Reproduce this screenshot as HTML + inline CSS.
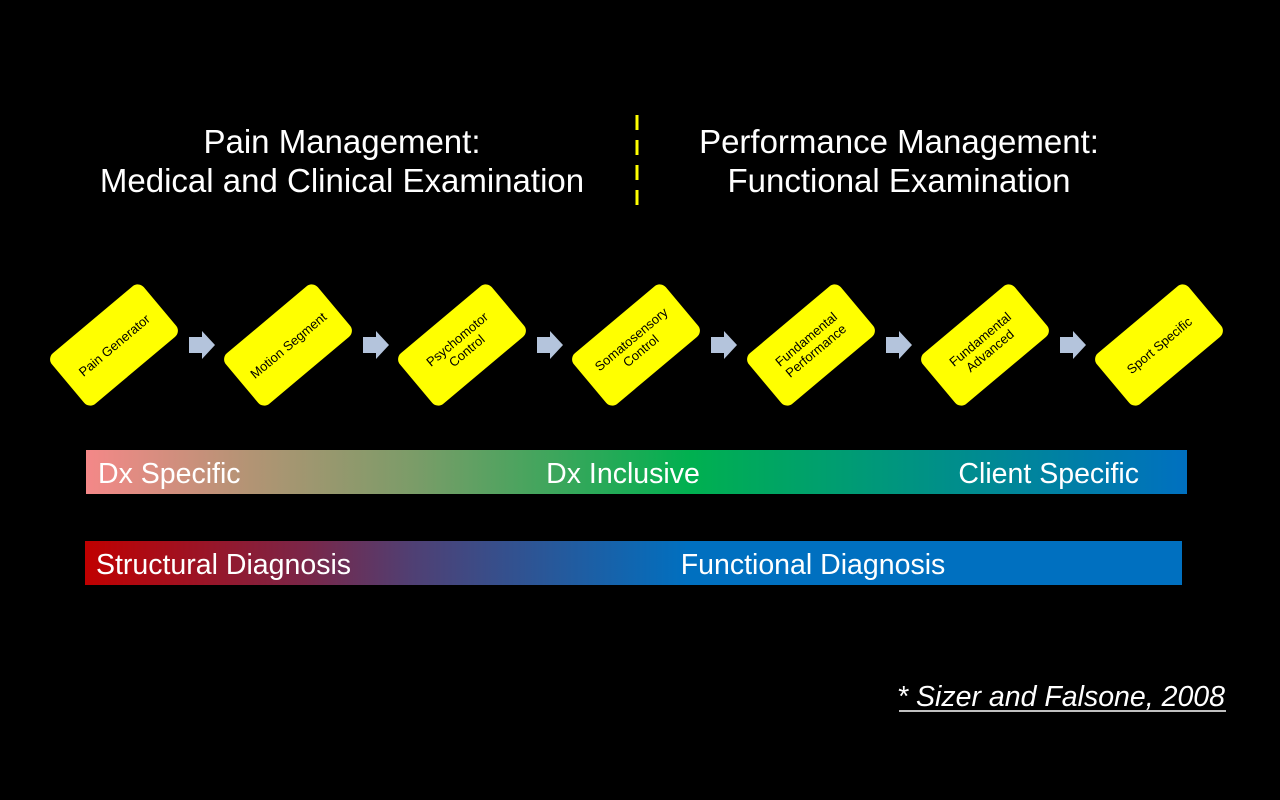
<!DOCTYPE html>
<html><head><meta charset="utf-8"><style>
body{margin:0;background:#000;width:1280px;height:800px;overflow:hidden}
svg{display:block}
text{font-family:"Liberation Sans",sans-serif}
</style></head><body>
<svg width="1280" height="800" viewBox="0 0 1280 800">
<defs>
<linearGradient id="g1" x1="0" x2="1" y1="0" y2="0">
<stop offset="0" stop-color="#f48888"/>
<stop offset="0.15" stop-color="#b29474"/>
<stop offset="0.3" stop-color="#7a9c68"/>
<stop offset="0.55" stop-color="#00b050"/>
<stop offset="1" stop-color="#0070c0"/>
</linearGradient>
<linearGradient id="g2" x1="0" x2="1" y1="0" y2="0">
<stop offset="0" stop-color="#c00000"/>
<stop offset="0.2" stop-color="#7a2648"/>
<stop offset="0.3" stop-color="#4f4074"/>
<stop offset="0.55" stop-color="#0070c0"/>
<stop offset="1" stop-color="#0070c0"/>
</linearGradient>
</defs>
<g fill="#fff" font-size="33" text-anchor="middle">
<text x="342" y="153">Pain Management:</text>
<text x="342" y="192">Medical and Clinical Examination</text>
<text x="899" y="153">Performance Management:</text>
<text x="899" y="192">Functional Examination</text>
</g>
<line x1="637" y1="115" x2="637" y2="205" stroke="#ffff00" stroke-width="3" stroke-dasharray="15,10"/>
<g font-size="13" fill="#000" text-anchor="middle">
<g transform="translate(114,345) rotate(-40)"><rect x="-60" y="-33" width="120" height="66" rx="8" fill="#ffff00"/><text y="5">Pain Generator</text></g>
<g transform="translate(288,345) rotate(-40)"><rect x="-60" y="-33" width="120" height="66" rx="8" fill="#ffff00"/><text y="5">Motion Segment</text></g>
<g transform="translate(462,345) rotate(-40)"><rect x="-60" y="-33" width="120" height="66" rx="8" fill="#ffff00"/><text y="-3">Psychomotor</text><text y="12">Control</text></g>
<g transform="translate(636,345) rotate(-40)"><rect x="-60" y="-33" width="120" height="66" rx="8" fill="#ffff00"/><text y="-3">Somatosensory</text><text y="12">Control</text></g>
<g transform="translate(811,345) rotate(-40)"><rect x="-60" y="-33" width="120" height="66" rx="8" fill="#ffff00"/><text y="-3">Fundamental</text><text y="12">Performance</text></g>
<g transform="translate(985,345) rotate(-40)"><rect x="-60" y="-33" width="120" height="66" rx="8" fill="#ffff00"/><text y="-3">Fundamental</text><text y="12">Advanced</text></g>
<g transform="translate(1159,345) rotate(-40)"><rect x="-60" y="-33" width="120" height="66" rx="8" fill="#ffff00"/><text y="5">Sport Specific</text></g>
</g>
<g fill="#b4c4dc">
<polygon points="189,337 202,337 202,331 215,345 202,359 202,353 189,353"/>
<polygon points="189,337 202,337 202,331 215,345 202,359 202,353 189,353" transform="translate(174,0)"/>
<polygon points="189,337 202,337 202,331 215,345 202,359 202,353 189,353" transform="translate(348,0)"/>
<polygon points="189,337 202,337 202,331 215,345 202,359 202,353 189,353" transform="translate(522,0)"/>
<polygon points="189,337 202,337 202,331 215,345 202,359 202,353 189,353" transform="translate(697,0)"/>
<polygon points="189,337 202,337 202,331 215,345 202,359 202,353 189,353" transform="translate(871,0)"/>
</g>
<rect x="86" y="450" width="1101" height="44" fill="url(#g1)"/>
<rect x="85" y="541" width="1097" height="44" fill="url(#g2)"/>
<g fill="#fff" font-size="28.5">
<text x="98" y="483">Dx Specific</text>
<text x="623" y="483" text-anchor="middle">Dx Inclusive</text>
<text x="1139" y="483" text-anchor="end">Client Specific</text>
<text x="96" y="574">Structural Diagnosis</text>
<text x="813" y="574" text-anchor="middle">Functional Diagnosis</text>
</g>
<text x="1225" y="706" fill="#fff" font-size="28.5" font-style="italic" text-anchor="end">* Sizer and Falsone, 2008</text>
<line x1="899" y1="711" x2="1226" y2="711" stroke="#fff" stroke-width="1.5"/>
</svg>
</body></html>
